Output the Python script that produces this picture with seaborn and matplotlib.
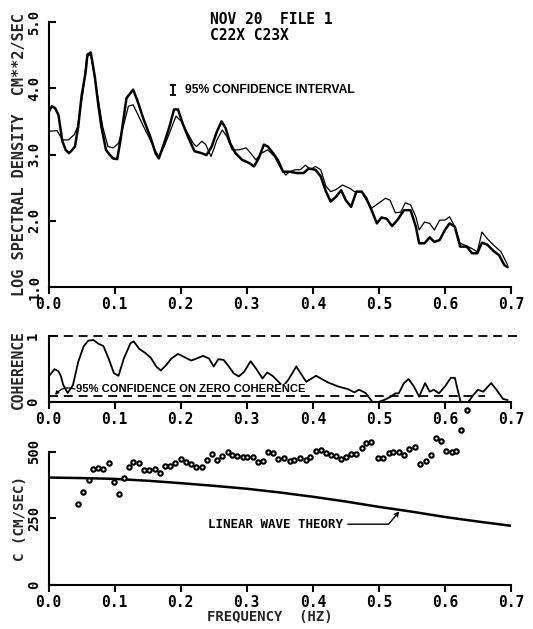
import matplotlib
matplotlib.use("Agg")
import matplotlib.pyplot as plt
import numpy as np
import pandas as pd
import seaborn as sns

# ---------------- log spectral density (cm**2/sec) ----------------
freq_c22 = [0.000, 0.005, 0.010, 0.015, 0.021, 0.026, 0.031, 0.036, 0.040, 0.045,
            0.050, 0.056, 0.059, 0.064, 0.070, 0.075, 0.080, 0.087, 0.093, 0.098,
            0.104, 0.109, 0.118, 0.128, 0.134, 0.144, 0.154, 0.162, 0.167, 0.175,
            0.183, 0.190, 0.196, 0.203, 0.211, 0.221, 0.232, 0.239, 0.247, 0.255,
            0.262, 0.268, 0.275, 0.283, 0.293, 0.304, 0.311, 0.318, 0.326, 0.332,
            0.340, 0.347, 0.355, 0.365, 0.376, 0.386, 0.394, 0.404, 0.412, 0.420,
            0.427, 0.435, 0.443, 0.450, 0.458, 0.466, 0.474, 0.481, 0.489, 0.497,
            0.504, 0.512, 0.520, 0.528, 0.538, 0.548, 0.556, 0.561, 0.569, 0.577,
            0.584, 0.592, 0.600, 0.607, 0.615, 0.623, 0.633, 0.641, 0.649, 0.656,
            0.664, 0.674, 0.682, 0.690, 0.695]
logpsd_c22 = [3.63, 3.73, 3.70, 3.60, 3.20, 3.07, 3.02, 3.07, 3.12, 3.42,
              3.88, 4.23, 4.51, 4.54, 4.18, 3.78, 3.42, 3.07, 2.99, 2.94,
              2.93, 3.22, 3.85, 3.98, 3.83, 3.53, 3.27, 3.02, 2.94, 3.17,
              3.42, 3.68, 3.68, 3.47, 3.27, 3.05, 3.02, 2.99, 3.12, 3.35,
              3.50, 3.40, 3.17, 3.02, 2.92, 2.87, 2.82, 2.94, 3.15, 3.12,
              3.02, 2.92, 2.74, 2.74, 2.72, 2.72, 2.79, 2.77, 2.67, 2.44,
              2.29, 2.36, 2.46, 2.31, 2.21, 2.44, 2.44, 2.34, 2.16, 1.96,
              2.05, 2.03, 1.92, 2.01, 2.16, 2.16, 1.91, 1.66, 1.66, 1.75,
              1.68, 1.71, 1.86, 1.96, 1.91, 1.61, 1.61, 1.51, 1.51, 1.67,
              1.64, 1.54, 1.48, 1.33, 1.30]

freq_c23 = [0.000, 0.013, 0.021, 0.030, 0.039, 0.044, 0.052, 0.058, 0.064, 0.072,
            0.082, 0.090, 0.098, 0.106, 0.113, 0.121, 0.128, 0.134, 0.144, 0.154,
            0.162, 0.167, 0.175, 0.183, 0.193, 0.201, 0.209, 0.219, 0.224, 0.232,
            0.238, 0.246, 0.255, 0.263, 0.270, 0.278, 0.288, 0.299, 0.306, 0.314,
            0.322, 0.332, 0.342, 0.350, 0.359, 0.365, 0.373, 0.381, 0.389, 0.396,
            0.404, 0.412, 0.420, 0.427, 0.435, 0.445, 0.456, 0.463, 0.474, 0.481,
            0.489, 0.499, 0.510, 0.517, 0.525, 0.533, 0.540, 0.548, 0.556, 0.561,
            0.569, 0.577, 0.584, 0.592, 0.600, 0.607, 0.615, 0.623, 0.633, 0.641,
            0.649, 0.656, 0.664, 0.674, 0.685, 0.695]
logpsd_c23 = [3.35, 3.36, 3.22, 3.22, 3.30, 3.42, 3.93, 4.48, 4.51, 4.03,
              3.42, 3.12, 3.10, 3.17, 3.42, 3.73, 3.75, 3.63, 3.42, 3.22,
              3.05, 2.97, 3.12, 3.32, 3.58, 3.50, 3.35, 3.17, 3.12, 3.20,
              3.15, 2.97, 3.22, 3.37, 3.27, 3.07, 3.07, 3.10, 3.02, 2.92,
              3.02, 3.07, 2.97, 2.82, 2.69, 2.74, 2.77, 2.77, 2.84, 2.77,
              2.82, 2.77, 2.52, 2.44, 2.47, 2.54, 2.49, 2.44, 2.44, 2.31,
              2.19, 2.26, 2.34, 2.31, 2.12, 2.13, 2.27, 2.24, 2.06, 1.86,
              1.98, 1.96, 1.86, 2.01, 2.01, 2.06, 1.91, 1.66, 1.62, 1.58,
              1.53, 1.83, 1.73, 1.63, 1.53, 1.33]

# 95% confidence interval bar for the spectra
ci_freq = 0.188
ci_center = 3.98
ci_half = 0.075

# ---------------- coherence ----------------
coh_freq = [0.002, 0.009, 0.015, 0.019, 0.022, 0.029, 0.037, 0.045, 0.053, 0.060,
            0.068, 0.076, 0.083, 0.091, 0.099, 0.106, 0.114, 0.124, 0.129, 0.137,
            0.147, 0.155, 0.163, 0.170, 0.178, 0.186, 0.196, 0.206, 0.216, 0.224,
            0.234, 0.243, 0.250, 0.257, 0.265, 0.273, 0.280, 0.288, 0.296, 0.306,
            0.314, 0.324, 0.331, 0.339, 0.347, 0.355, 0.363, 0.375, 0.390, 0.405,
            0.423, 0.438, 0.453, 0.463, 0.470, 0.480, 0.490, 0.498, 0.508, 0.518,
            0.525, 0.530, 0.538, 0.545, 0.553, 0.561, 0.570, 0.577, 0.583, 0.591,
            0.600, 0.609, 0.615, 0.620, 0.624, 0.629, 0.635, 0.643, 0.650, 0.658,
            0.670, 0.678, 0.688, 0.695]
coherence = [0.41, 0.50, 0.47, 0.39, 0.27, 0.14, 0.26, 0.61, 0.84, 0.93,
             0.94, 0.88, 0.85, 0.66, 0.44, 0.40, 0.66, 0.89, 0.92, 0.81,
             0.74, 0.67, 0.54, 0.48, 0.56, 0.66, 0.73, 0.68, 0.63, 0.66,
             0.70, 0.66, 0.54, 0.65, 0.64, 0.54, 0.44, 0.39, 0.46, 0.62,
             0.51, 0.36, 0.45, 0.40, 0.32, 0.24, 0.34, 0.54, 0.31, 0.40,
             0.30, 0.24, 0.20, 0.15, 0.19, 0.14, 0.01, 0.00, 0.035, 0.085,
             0.135, 0.135, 0.29, 0.35, 0.24, 0.085, 0.29, 0.16, 0.19, 0.135,
             0.24, 0.37, 0.37, 0.16, 0.00, -0.06, 0.00, 0.11, 0.19, 0.16,
             0.29, 0.19, 0.05, 0.035]
coh_full = 1.0
coh_full_end = 0.712
coh_zero95 = 0.10
coh_zero95_end = 0.66

# ---------------- phase speed ----------------
speed_freq = [0.045, 0.052, 0.061, 0.068, 0.075, 0.083, 0.091, 0.099, 0.106, 0.114,
              0.122, 0.128, 0.137, 0.145, 0.152, 0.161, 0.169, 0.177, 0.184, 0.192,
              0.200, 0.208, 0.215, 0.223, 0.232, 0.240, 0.247, 0.255, 0.263, 0.271,
              0.278, 0.286, 0.294, 0.301, 0.309, 0.317, 0.325, 0.332, 0.340, 0.348,
              0.357, 0.365, 0.372, 0.381, 0.389, 0.396, 0.405, 0.412, 0.420, 0.427,
              0.435, 0.443, 0.450, 0.458, 0.466, 0.475, 0.481, 0.488, 0.499, 0.507,
              0.515, 0.522, 0.530, 0.538, 0.545, 0.554, 0.563, 0.571, 0.579, 0.586,
              0.594, 0.602, 0.610, 0.617, 0.625, 0.634]
speed = [302, 348, 392, 434, 440, 434, 458, 388, 340, 402,
         443, 460, 457, 432, 432, 435, 421, 446, 446, 456,
         473, 462, 455, 444, 444, 468, 492, 470, 483, 497,
         488, 482, 481, 480, 479, 460, 465, 498, 495, 471,
         475, 465, 468, 475, 468, 481, 504, 506, 496, 487,
         485, 471, 481, 491, 490, 513, 531, 538, 475, 475,
         496, 500, 500, 487, 509, 516, 453, 466, 487, 550,
         539, 504, 497, 503, 582, 657]

theory_freq = [0.00, 0.05, 0.10, 0.15, 0.20, 0.25, 0.30, 0.35, 0.40, 0.45,
               0.50, 0.55, 0.60, 0.65, 0.70]
theory_speed = [403, 401, 398, 391, 382, 372, 361, 347, 331, 313,
                293, 275, 255, 238, 222]

freq_ticks = [0.0, 0.1, 0.2, 0.3, 0.4, 0.5, 0.6, 0.7]
freq_labels = ["0.0", "0.1", "0.2", "0.3", "0.4", "0.5", "0.6", "0.7"]

# ---------------- styling ----------------
sns.set_style("ticks")
plt.rcParams["font.family"] = ["DejaVu Sans Mono", "DejaVu Sans"]
plt.rcParams["font.weight"] = "bold"
plt.rcParams["axes.labelweight"] = "bold"
plt.rcParams["axes.edgecolor"] = "black"
plt.rcParams["axes.linewidth"] = 1.5

TICK_FS = 10
INK = "black"

fig = plt.figure(figsize=(5.33, 6.29), dpi=100)
ax1 = fig.add_axes([0.091, 0.5437, 0.8677, 0.4213])
ax2 = fig.add_axes([0.091, 0.3604, 0.8677, 0.1054])
ax3 = fig.add_axes([0.091, 0.0700, 0.8677, 0.2119])


def style_axes(ax, yticks, ylabels, ypad=5):
    for side in ("top", "right"):
        ax.spines[side].set_visible(False)
    for side in ("left", "bottom"):
        ax.spines[side].set_linewidth(1.5)
        ax.spines[side].set_color(INK)
    ax.set_xlim(0, 0.7)
    ax.set_xticks(freq_ticks)
    ax.set_xticklabels(freq_labels)
    ax.set_yticks(yticks)
    ax.set_yticklabels(ylabels)
    ax.tick_params(axis="x", direction="out", length=5, width=1.5,
                   labelsize=10.5, pad=2, colors=INK)
    ax.tick_params(axis="y", direction="in", length=5, width=1.5,
                   labelsize=TICK_FS, pad=ypad, labelrotation=90, colors=INK)
    for lab in ax.get_yticklabels():
        lab.set_va("center")
    ax.set_facecolor("white")


# ---- top: spectra ----
sns.lineplot(x=freq_c23, y=logpsd_c23, ax=ax1, color=INK, linewidth=0.9,
             sort=False, estimator=None)
sns.lineplot(x=freq_c22, y=logpsd_c22, ax=ax1, color=INK, linewidth=1.8,
             sort=False, estimator=None)
ax1.set_ylim(1, 5)
style_axes(ax1, [1, 2, 3, 4, 5], ["1.0", "2.0", "3.0", "4.0", "5.0"])
ax1.set_xlabel("")
ax1.set_ylabel("LOG SPECTRAL DENSITY  CM**2/SEC", fontsize=11)
ax1.yaxis.set_label_coords(-0.0465, 0.5)

ax1.errorbar([ci_freq], [ci_center], yerr=[ci_half], fmt="none", ecolor=INK,
             elinewidth=1.3, capsize=2.5, capthick=1.3)
ax1.text(ci_freq + 0.018, ci_center - 0.01, "95% CONFIDENCE INTERVAL",
         family="Liberation Sans", weight="bold", fontsize=8.7,
         va="center", ha="left", color=INK)
ax1.text(0.244, 5.045, "NOV 20  FILE 1", fontsize=10.5, va="center",
         ha="left", color=INK, clip_on=False)
ax1.text(0.244, 4.79, "C22X C23X", fontsize=10.5, va="center",
         ha="left", color=INK, clip_on=False)

# ---- middle: coherence ----
sns.lineplot(x=coh_freq, y=coherence, ax=ax2, color=INK, linewidth=1.3,
             sort=False, estimator=None)
ax2.set_ylim(0, 1)
style_axes(ax2, [0, 1], ["0", "1"], ypad=6)
ax2.set_xlabel("")
ax2.set_ylabel("COHERENCE", fontsize=10.5)
ax2.yaxis.set_label_coords(-0.048, 0.5)
ax2.hlines(coh_full, 0, coh_full_end, colors=INK, linewidth=1.3,
           linestyles=(0, (5, 3.2)), clip_on=False)
ax2.hlines(coh_zero95, 0, coh_zero95_end, colors=INK, linewidth=1.3,
           linestyles=(0, (5, 3.2)))
ax2.text(0.042, 0.12, "95% CONFIDENCE ON ZERO COHERENCE",
         family="Liberation Sans", weight="bold", fontsize=8.1,
         va="bottom", ha="left", color=INK, zorder=5,
         bbox=dict(facecolor="white", edgecolor="none", pad=0.6))
ax2.annotate("", xy=(0.010, coh_zero95 + 0.01), xytext=(0.040, 0.20),
             arrowprops=dict(arrowstyle="-|>", color=INK, lw=0.9,
                             mutation_scale=5, shrinkA=0, shrinkB=0,
                             connectionstyle="arc3,rad=0.35"),
             zorder=6)

# ---- bottom: phase speed ----
sns.lineplot(x=theory_freq, y=theory_speed, ax=ax3, color=INK, linewidth=1.8,
             sort=False, estimator=None)
sns.scatterplot(x=speed_freq, y=speed, ax=ax3, marker="o", s=10,
                facecolor="white", edgecolor=INK, linewidth=1.5, zorder=4)
for coll in ax3.collections:
    coll.set_clip_on(False)
ax3.set_ylim(0, 500)
style_axes(ax3, [0, 250, 500], ["0", "250", "500"])
ax3.set_ylabel("C (CM/SEC)", fontsize=10.2)
ax3.yaxis.set_label_coords(-0.046, 0.5)
ax3.set_xlabel("FREQUENCY  (HZ)", fontsize=10)
ax3.xaxis.set_label_coords(0.479, -0.1875)
ax3.annotate("LINEAR WAVE THEORY", xy=(0.531, 276), xytext=(0.446, 228),
             ha="right", va="center", fontsize=9, color=INK,
             arrowprops=dict(arrowstyle="->", color=INK, lw=1.0,
                             shrinkA=1, shrinkB=0, mutation_scale=7,
                             connectionstyle="angle,angleA=0,angleB=50,rad=0"))

fig.savefig("out.png", dpi=100, facecolor="white")
